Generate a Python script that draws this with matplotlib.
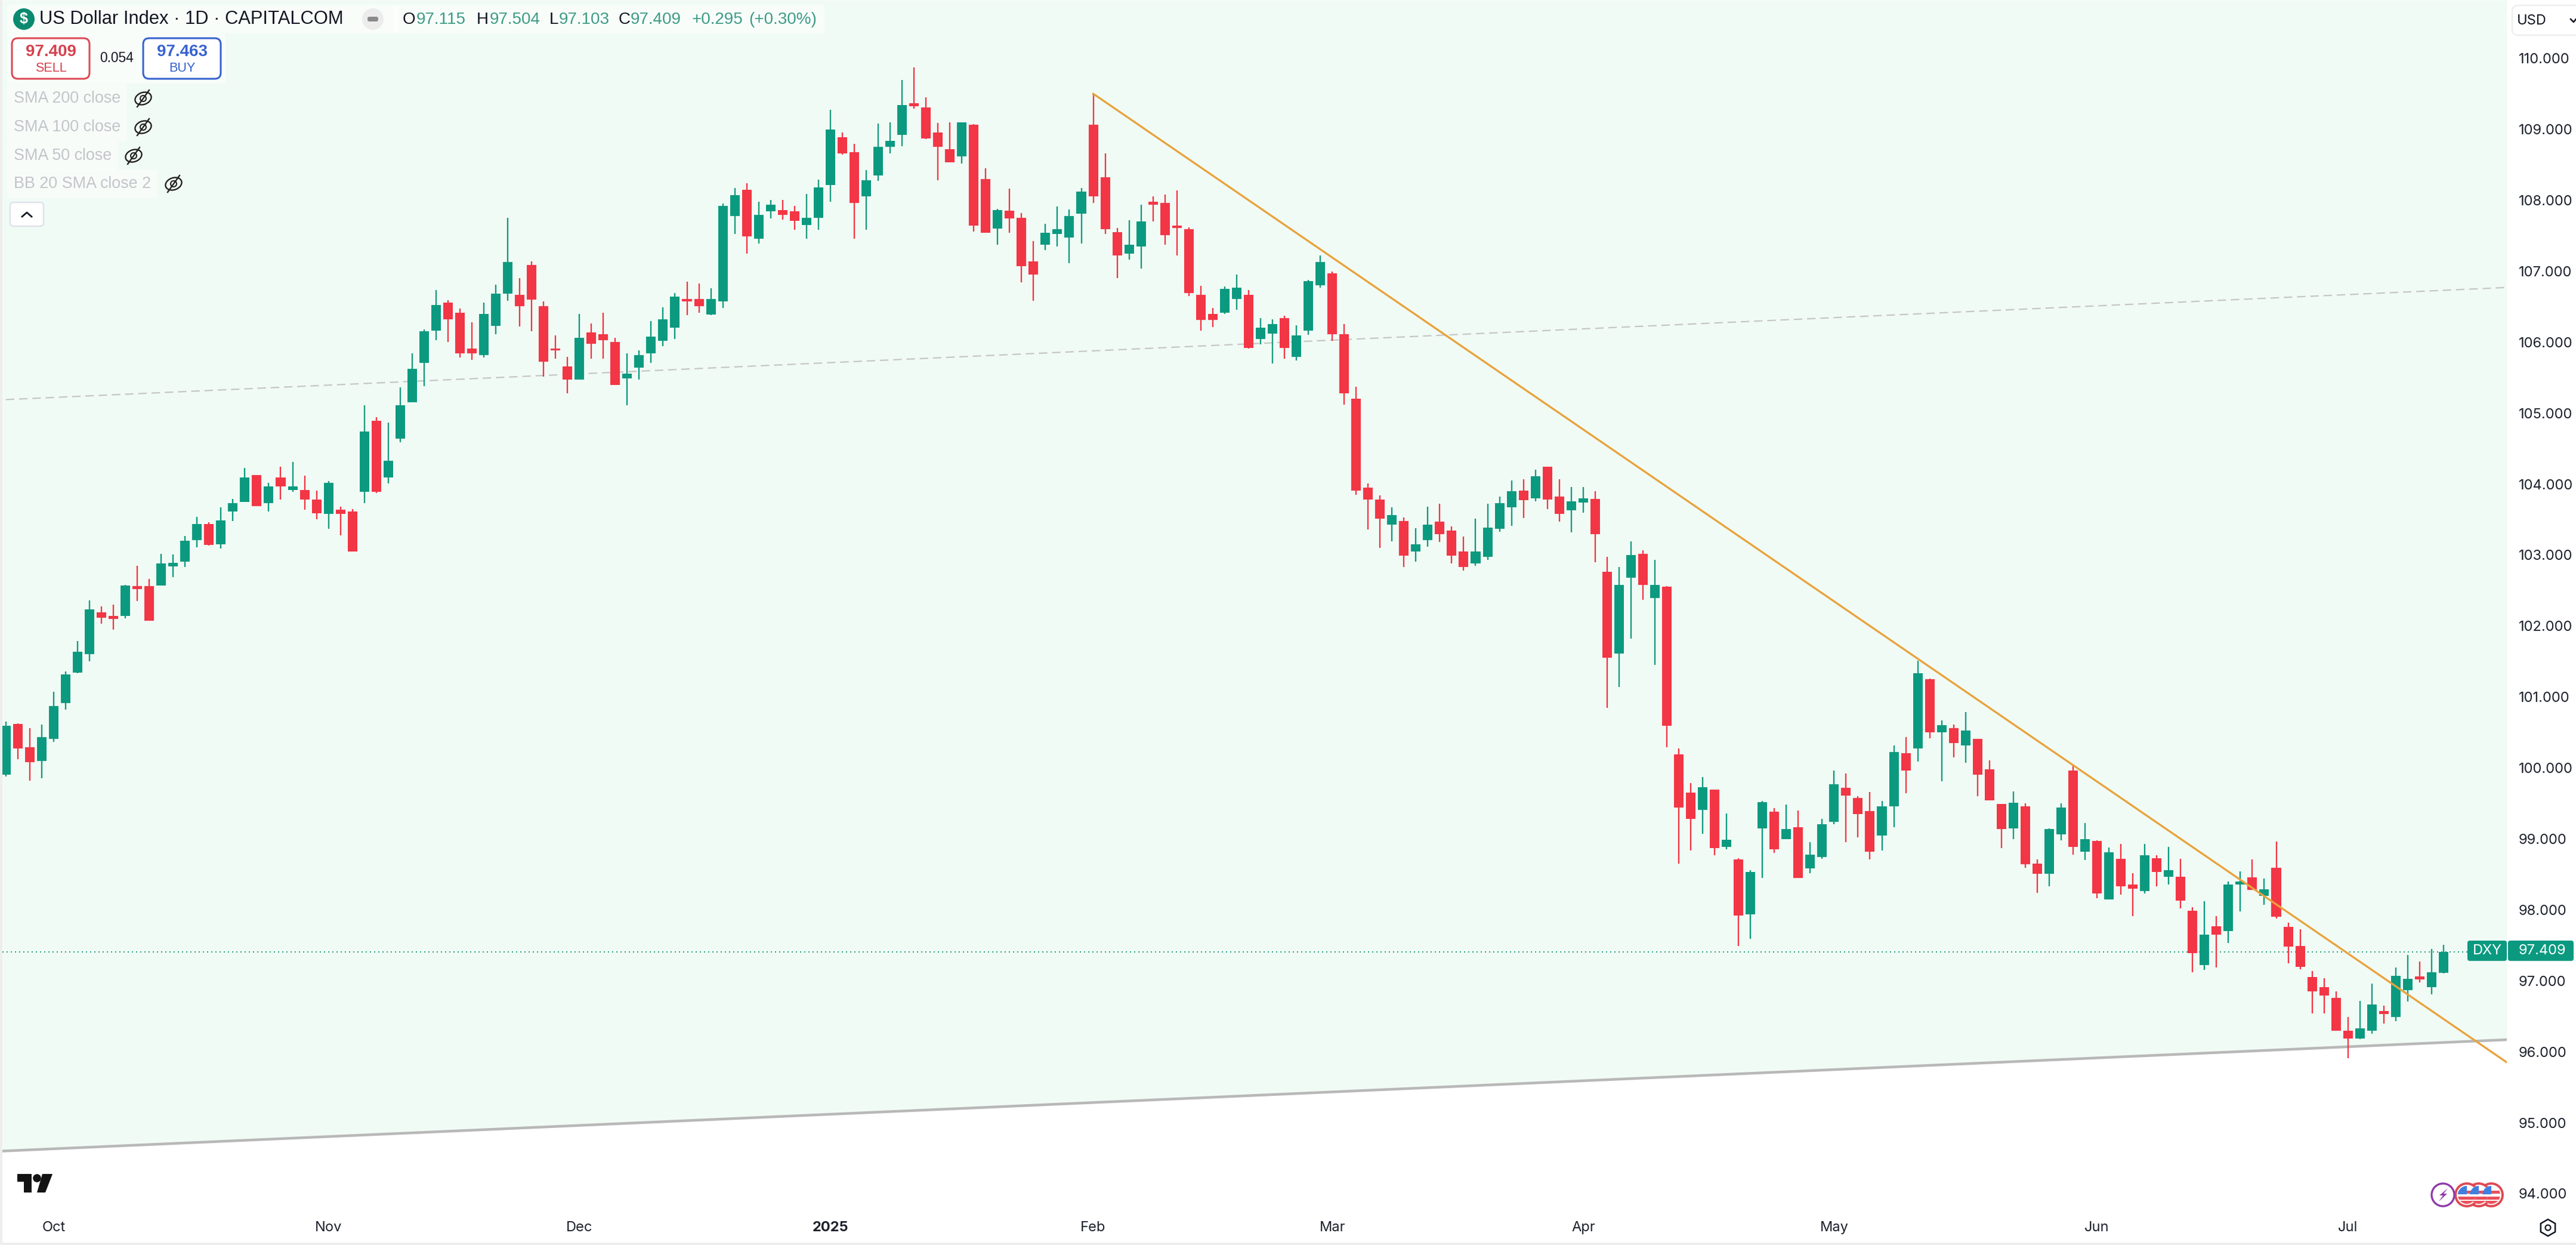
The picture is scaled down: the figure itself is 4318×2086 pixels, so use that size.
import matplotlib
matplotlib.use("Agg")
import matplotlib.pyplot as plt
import numpy as np
from matplotlib.patches import FancyBboxPatch, Rectangle, Circle, Ellipse, Polygon, RegularPolygon

plt.rcParams['font.family'] = ['Inter', 'DejaVu Sans']
HEAD = ['Liberation Sans', 'DejaVu Sans']

# ---------- data ----------
opens = [
 99.90,100.62,100.29,100.10,100.41,100.91,101.34,101.60,102.19,102.14,102.14,102.56,102.56,102.57,102.84,102.91,103.21,103.44,103.15,103.61,
 103.75,104.13,103.73,104.09,103.92,103.92,103.78,103.58,103.64,103.61,103.89,104.89,104.09,104.64,105.15,105.71,106.16,106.56,106.41,105.91,
 105.82,106.23,106.68,106.67,107.09,106.51,105.89,105.66,105.47,106.14,106.11,106.00,105.49,105.64,105.84,106.02,106.20,106.61,106.61,106.39,
 106.57,107.78,108.15,107.46,107.84,107.86,107.84,107.65,107.75,108.21,108.89,108.68,108.05,108.35,108.75,108.92,109.37,109.31,108.95,108.72,
 108.62,109.06,108.30,107.60,107.85,107.75,107.14,107.37,107.52,107.47,107.81,109.06,108.32,107.55,107.25,107.35,107.98,107.96,107.62,107.59,
 106.67,106.40,106.41,106.61,106.67,106.04,106.12,106.34,105.79,106.16,106.80,106.97,106.11,105.20,103.95,103.78,103.43,103.48,103.05,103.21,
 103.47,103.34,103.05,102.88,102.97,103.37,103.67,103.91,103.80,104.24,103.82,103.63,103.74,103.79,102.76,101.61,102.68,103.02,102.39,102.55,
 100.19,99.65,99.41,99.69,98.89,98.71,97.94,99.15,99.38,99.00,99.16,98.58,98.74,99.24,99.72,99.58,99.39,99.05,99.46,100.21,
 100.27,101.25,100.50,100.56,100.32,100.41,99.98,99.49,99.15,99.46,98.65,98.51,99.06,99.96,98.82,98.97,98.15,98.72,98.36,98.26,
 98.73,98.47,98.47,97.99,97.22,97.77,97.70,98.36,98.46,98.20,98.59,97.76,97.49,97.05,96.91,96.76,96.30,96.19,96.30,96.57,
 96.49,96.87,97.06,96.91,97.115]
highs = [
 100.65,100.63,100.56,100.61,101.07,101.36,101.79,102.36,102.28,102.30,102.58,102.85,102.66,103.02,103.01,103.27,103.54,103.46,103.67,103.79,
 104.23,104.13,104.02,104.24,104.31,104.12,103.91,104.04,103.68,103.65,105.11,104.94,104.87,105.36,105.84,106.18,106.73,106.59,106.47,106.28,
 106.56,106.81,107.75,106.90,107.14,106.57,106.09,105.79,106.40,106.26,106.41,106.06,105.84,105.88,106.30,106.49,106.69,106.85,106.83,106.76,
 107.95,108.17,108.24,107.98,108.00,108.00,107.92,108.09,108.29,109.27,108.95,108.79,108.42,109.08,109.10,109.69,109.87,109.45,109.09,109.10,
 109.10,109.07,108.45,107.88,108.16,107.82,107.42,107.67,107.91,107.87,108.17,109.50,108.66,107.61,107.72,107.94,108.05,108.08,108.14,107.62,
 106.79,106.48,106.78,106.95,106.73,106.34,106.32,106.37,106.24,106.88,107.22,106.99,106.25,105.37,104.01,103.84,103.67,103.53,103.38,103.68,
 103.72,103.40,103.26,103.51,103.72,103.82,104.05,104.07,104.20,104.24,104.07,103.96,103.96,103.90,102.97,102.83,103.19,103.07,102.93,102.56,
 100.27,99.79,99.87,99.69,99.36,98.73,98.56,99.53,99.43,99.48,99.40,98.95,99.28,99.96,99.92,99.60,99.66,99.53,100.32,100.43,
 101.51,101.26,100.67,100.61,100.79,100.41,100.11,99.49,99.67,99.50,98.71,99.15,99.50,100.03,99.22,98.98,98.88,98.93,98.52,98.93,
 98.77,98.89,98.72,98.04,98.12,97.91,98.40,98.54,98.71,98.44,98.96,97.82,97.73,97.14,97.04,96.85,96.49,96.72,96.96,96.65,
 97.19,97.36,97.27,97.45,97.504]
lows = [
 99.88,100.12,99.82,99.85,100.37,100.82,101.33,101.50,102.03,101.95,102.11,102.35,102.07,102.57,102.69,102.83,103.11,103.13,103.09,103.48,
 103.75,103.69,103.61,103.78,103.89,103.64,103.50,103.37,103.28,103.05,103.73,103.87,104.01,104.59,105.15,105.38,106.03,106.00,105.78,105.75,
 105.78,106.11,106.58,106.22,106.15,105.51,105.77,105.28,105.47,105.77,105.77,105.40,105.11,105.47,105.71,105.94,106.04,106.38,106.41,106.38,
 106.48,107.52,107.25,107.39,107.74,107.73,107.58,107.46,107.58,107.98,108.64,107.46,107.58,108.27,108.66,108.76,109.29,108.86,108.28,108.53,
 108.52,107.56,107.54,107.37,107.54,106.84,106.58,107.30,107.35,107.11,107.39,107.96,107.52,106.90,107.16,107.04,107.70,107.37,107.22,106.65,
 106.16,106.21,106.40,106.46,105.91,105.97,105.70,105.77,105.74,106.10,106.77,106.02,105.12,103.85,103.36,103.10,103.19,102.83,102.91,103.12,
 103.18,102.88,102.78,102.85,102.93,103.33,103.41,103.52,103.76,103.65,103.47,103.32,103.60,102.90,100.85,101.14,101.82,102.37,101.45,100.29,
 98.65,98.84,99.07,98.77,98.85,97.49,97.59,98.45,98.80,99.00,98.45,98.52,98.72,99.21,98.95,99.02,98.71,98.84,99.16,99.64,
 100.09,100.42,99.81,100.15,100.07,99.60,99.54,98.87,99.00,98.59,98.24,98.33,98.98,98.78,98.70,98.16,98.15,98.21,97.91,98.23,
 98.33,98.36,98.02,97.12,97.15,97.19,97.53,97.98,98.28,98.07,97.88,97.25,97.16,96.54,96.54,96.30,95.91,96.18,96.25,96.40,
 96.43,96.71,96.98,96.81,97.103]
closes = [
 100.59,100.27,100.08,100.43,100.87,101.32,101.64,102.23,102.12,102.10,102.57,102.52,102.07,102.88,102.89,103.20,103.44,103.14,103.49,103.73,
 104.09,103.69,103.97,103.97,103.97,103.78,103.59,104.02,103.58,103.05,104.74,103.89,104.33,105.11,105.62,106.15,106.52,106.32,105.84,105.84,
 106.40,106.68,107.13,106.51,106.60,105.72,105.88,105.47,106.06,105.98,106.03,105.40,105.56,105.82,106.08,106.32,106.64,106.57,106.51,106.61,
 107.92,108.07,107.49,107.79,107.94,107.79,107.71,107.75,108.18,109.00,108.66,107.96,108.28,108.75,108.84,109.34,109.32,108.87,108.75,108.53,
 109.10,107.64,107.54,107.86,107.74,107.07,106.95,107.54,107.59,107.78,108.12,108.05,107.59,107.22,107.37,107.70,107.94,107.51,107.61,106.69,
 106.31,106.31,106.75,106.77,105.92,106.20,106.25,105.92,106.09,106.86,107.13,106.11,105.28,103.91,103.78,103.51,103.56,102.99,103.15,103.43,
 103.29,102.99,102.83,103.05,103.39,103.73,103.90,103.77,104.11,103.78,103.58,103.76,103.80,103.29,101.55,102.58,103.00,102.58,102.58,100.59,
 99.44,99.28,99.73,98.87,98.99,97.92,98.53,99.52,98.85,99.14,98.45,98.78,99.21,99.77,99.61,99.35,98.82,99.46,100.22,99.96,
 101.33,100.50,100.60,100.35,100.53,99.90,99.54,99.14,99.51,98.64,98.51,99.14,99.44,98.89,99.00,98.23,98.81,98.33,98.30,98.77,
 98.53,98.56,98.13,97.39,97.65,97.65,98.36,98.40,98.28,98.29,97.90,97.48,97.20,96.85,96.79,96.30,96.19,96.33,96.67,96.53,
 97.07,97.03,97.02,97.12,97.409]

price_ticks = [110, 109, 108, 107, 106, 105, 104, 103, 102, 101, 100, 99, 98, 97, 96, 95, 94]
month_labels = ['Oct', 'Nov', 'Dec', '2025', 'Feb', 'Mar', 'Apr', 'May', 'Jun', 'Jul']
month_bars = [4, 27, 48, 69, 91, 111, 132, 153, 175, 196]

trend_down_bars = [91, 209.3]
trend_down_vals = [109.50, 95.85]
support_bars = [-0.3, 209.3]
support_vals = [94.60, 96.17]
channel_bars = [0, 209.3]
channel_vals = [105.19, 106.77]
last_price = 97.409

# ---------- layout ----------
W, H = 4318, 2086
DPI = 100
PX_PER_UNIT = 118.9
BAR_STEP = 20.03
PLOT_L, PLOT_R, PLOT_B = 4, 4202, 2025
fig = plt.figure(figsize=(W / DPI, H / DPI), dpi=DPI, facecolor='white')
ax = fig.add_axes([PLOT_L / W, 1 - PLOT_B / H, (PLOT_R - PLOT_L) / W, PLOT_B / H])
ax.set_xlim((PLOT_L - 9.8) / BAR_STEP, (PLOT_R - 9.8) / BAR_STEP)
ax.set_ylim(94 + (2000 - PLOT_B) / PX_PER_UNIT, 94 + 2000 / PX_PER_UNIT)
for s in ax.spines.values():
    s.set_visible(False)
ax.set_facecolor('white')

GREEN, RED = '#0b9a80', '#f23645'
BG = '#f1fbf5'
xs = np.arange(len(opens))
o, h, l, c = map(np.array, (opens, highs, lows, closes))
colors = [GREEN if cc >= oo else RED for oo, cc in zip(o, c)]

top = ax.get_ylim()[1]
ax.fill_between(support_bars, support_vals, top, color=BG, lw=0, zorder=0)
ax.plot(channel_bars, channel_vals, color='#c6c6c6', lw=1.6, dashes=(6.4, 3.6), zorder=1)
ax.plot(support_bars, support_vals, color='#b8b8b8', lw=3.2, zorder=1)
ax.axhline(last_price, color=GREEN, lw=1.4, dashes=(1, 2.6), zorder=1)

ax.vlines(xs, l, h, colors=colors, lw=1.7, zorder=3)
ax.bar(xs, np.maximum(np.abs(c - o), 0.03), bottom=np.minimum(o, c), width=0.8, color=colors, lw=0, zorder=3)
ax.plot(trend_down_bars, trend_down_vals, color='#e8a33d', lw=2.4, zorder=4)

ax.yaxis.tick_right()
ax.set_yticks(price_ticks)
ax.set_yticklabels([f'{v:.3f}' for v in price_ticks], fontsize=17, color='#1e222d')
ax.tick_params(axis='y', length=0, pad=14)
ax.set_xticks(month_bars)
ax.set_xticklabels(month_labels, fontsize=17, color='#1e222d')
ax.tick_params(axis='x', length=0, pad=15)
for t in ax.get_xticklabels():
    if t.get_text() == '2025':
        t.set_fontweight('bold')

# ---------- overlay in pixel coordinates ----------
ov = fig.add_axes([0, 0, 1, 1], facecolor='none', zorder=10)
ov.set_xlim(0, W)
ov.set_ylim(H, 0)
ov.axis('off')

def txt(x, y, s, size=17, color='#131722', ha='left', va='center', **kw):
    ov.text(x, y, s, fontsize=size, color=color, ha=ha, va=va, **kw)

def rbox(x0, y0, x1, y1, r=8, fc='white', ec='none', lw=0, alpha=None, z=1):
    ov.add_patch(FancyBboxPatch((x0 + r, y0 + r), x1 - x0 - 2 * r, y1 - y0 - 2 * r,
                                boxstyle=f'round,pad={r},rounding_size={r}',
                                fc=fc, ec=ec, lw=lw, alpha=alpha, zorder=z))

ov.add_patch(Rectangle((0, 0), 4, H, fc='#eeeeee', lw=0))
ov.add_patch(Rectangle((0, 2082), W, 4, fc='#eeeeee', lw=0))

# legend backgrounds
rbox(12, 8, 668, 56, r=6, fc='white', alpha=0.55)
rbox(660, 8, 1382, 56, r=6, fc='white', alpha=0.55)
rbox(12, 56, 378, 140, r=4, fc='white', alpha=0.55)
for x1, y in ((213, 165), (213, 213), (198, 261), (263, 308)):
    rbox(12, y - 24, x1, y + 24, r=2, fc='white', alpha=0.45)

# symbol title
ov.add_patch(Circle((40, 32), 18, fc='#0b8a70', lw=0, zorder=2))
txt(40, 32, '$', size=18, color='white', ha='center', weight='bold', family=HEAD, zorder=3)
txt(66, 32, 'US Dollar Index · 1D · CAPITALCOM', size=22.2, family=HEAD)
ov.add_patch(Ellipse((625, 32), 36, 36, fc='#ececec', lw=0, zorder=2))
rbox(616, 28, 634, 36, r=3.5, fc='#8a8a8a', z=3)

VAL = '#3f9c85'
for x, s, col in ((675, 'O', '#131722'), (698, '97.115', VAL), (799, 'H', '#131722'), (821, '97.504', VAL),
                  (921, 'L', '#131722'), (937, '97.103', VAL), (1037, 'C', '#131722'), (1057, '97.409', VAL),
                  (1160, '+0.295', VAL), (1255, '(+0.30%)', VAL)):
    txt(x, 33, s, size=20, color=col, family=HEAD)

# sell / buy
rbox(20, 64, 150, 132, r=10, fc='white', ec='#dd4a56', lw=2.2, z=2)
rbox(240, 64, 370, 132, r=10, fc='white', ec='#3763cf', lw=2.2, z=2)
txt(85, 87, '97.409', size=20, color='#d5404d', ha='center', weight='bold', family=HEAD, zorder=3)
txt(85, 115, 'SELL', size=15.6, color='#d5404d', ha='center', family=HEAD, zorder=3)
txt(305, 87, '97.463', size=20, color='#3763cf', ha='center', weight='bold', family=HEAD, zorder=3)
txt(305, 115, 'BUY', size=15.6, color='#3763cf', ha='center', family=HEAD, zorder=3)
txt(195, 98, '0.054', size=16.4, ha='center', family=HEAD, zorder=3)

# hidden indicators
def eye(cx, cy):
    ov.add_patch(Ellipse((cx, cy), 28, 20, angle=-20, fc='none', ec='#222222', lw=1.7, zorder=3))
    ov.add_patch(Circle((cx, cy), 5, fc='none', ec='#222222', lw=1.5, zorder=3))
    ov.plot([cx - 10, cx + 10], [cy + 14, cy - 14], color='#222222', lw=1.7, zorder=3)

for y, s, ex in ((165, 'SMA 200 close', 240), (213, 'SMA 100 close', 240),
                 (261, 'SMA 50 close', 224), (308, 'BB 20 SMA close 2', 291)):
    txt(23, y, s, size=19.4, color='#c3c5c9', family=HEAD, zorder=3)
    eye(ex, y)

rbox(17, 339, 73, 379, r=6, fc='white', ec='#e0e3eb', lw=1.8, z=2)
ov.plot([37, 45, 53], [363, 356, 363], color='#131722', lw=2.0, zorder=3)

# currency button
rbox(4211, 9, 4340, 59, r=10, fc='white', ec='#eeeeee', lw=1.8)
txt(4219, 35, 'USD', size=17, color='#131722')
ov.plot([4309, 4314, 4318], [32, 37, 32], color='#131722', lw=1.8)

# last price tags
rbox(4136, 1576, 4202, 1610, r=4, fc=GREEN)
rbox(4204, 1576, 4314, 1610, r=4, fc=GREEN)
txt(4169, 1593, 'DXY', size=17, color='white', ha='center', zorder=3)
txt(4222, 1593, '97.409', size=17, color='white', zorder=3)

# TradingView logo
K = '#131313'
ov.add_patch(Polygon([(29, 1967), (53, 1967), (53, 1998), (40, 1998), (40, 1980), (29, 1980)], fc=K, lw=0))
ov.add_patch(Circle((62, 1974), 6.8, fc=K, lw=0))
ov.add_patch(Polygon([(71, 1967), (88, 1967), (76, 1998), (62, 1998)], fc=K, lw=0))

# event icons
for cx in (4176, 4155, 4135):
    ov.add_patch(Circle((cx, 2002), 19, fc='white', ec='#de4a52', lw=2.8, zorder=4))
    clip = Circle((cx, 2002), 15, transform=ov.transData)
    a = ov.add_patch(Rectangle((cx - 15, 1987), 30, 30, fc='white', lw=0, zorder=5))
    a.set_clip_path(clip)
    for sy in (1995, 2005, 2012):
        b = ov.add_patch(Rectangle((cx - 15, sy), 30, 5, fc='#e8505a', lw=0, zorder=5))
        b.set_clip_path(clip)
    d = ov.add_patch(Rectangle((cx - 15, 1987), 15, 14, fc='#3f7fe0', lw=0, zorder=6))
    d.set_clip_path(clip)
ov.add_patch(Circle((4095, 2002), 19, fc='white', ec='#8e3aa8', lw=2.4, zorder=7))
ov.add_patch(Polygon([(4103, 1991), (4089, 2003), (4095, 2003), (4088, 2013), (4102, 2000), (4096, 2000)],
                     fc='#8e3aa8', lw=0, zorder=8))

# settings hexagon
ov.add_patch(RegularPolygon((4271, 2057), 6, radius=14, orientation=np.pi / 6 + np.pi / 2, fc='none', ec='#131722', lw=1.8))
ov.add_patch(Circle((4271, 2057), 4.5, fc='none', ec='#131722', lw=1.6))

fig.savefig('out.png', dpi=DPI, facecolor='white')
